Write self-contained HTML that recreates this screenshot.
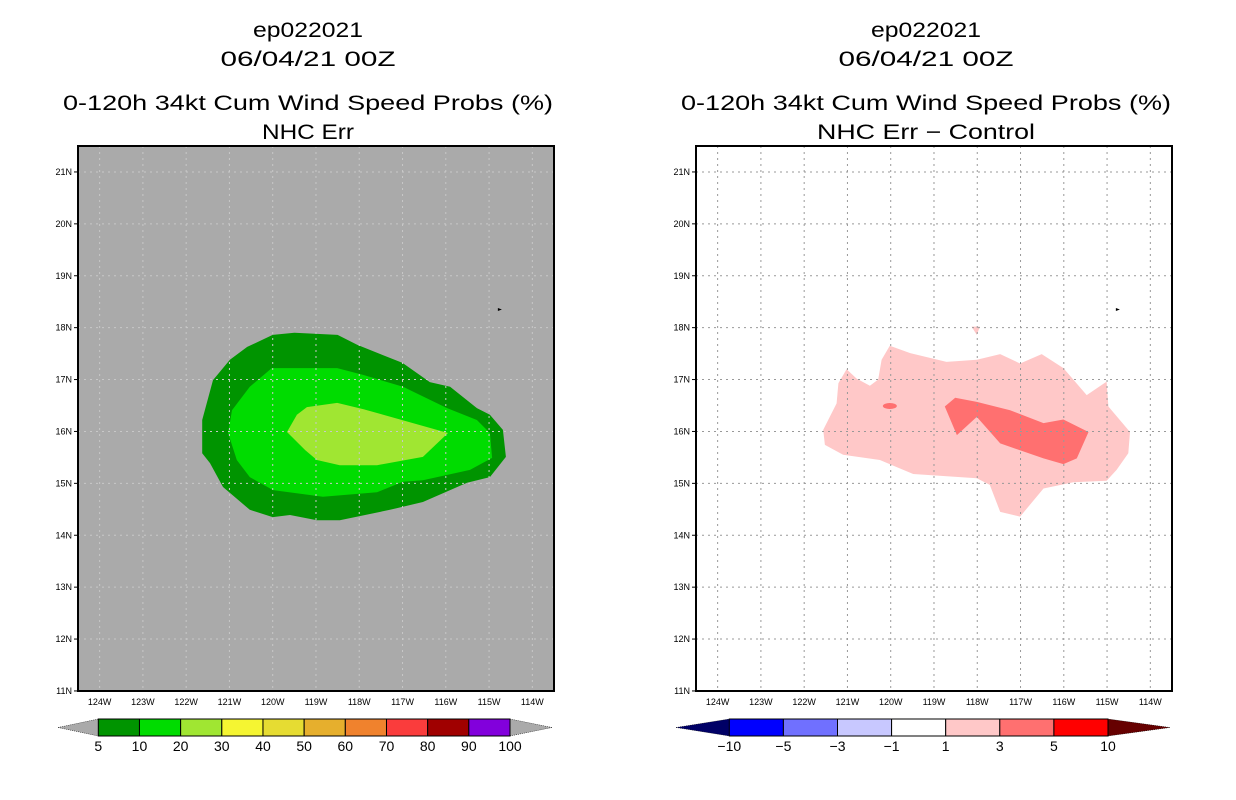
<!DOCTYPE html>
<html><head><meta charset="utf-8">
<style>
html,body{margin:0;padding:0;background:#fff;}
svg{display:block;font-family:"Liberation Sans",sans-serif;}
</style></head>
<body>
<svg id="chart" width="1236" height="800" viewBox="0 0 1236 800" xmlns="http://www.w3.org/2000/svg">
<g font-size="21" text-anchor="middle" fill="#000">
<text x="308" y="37" textLength="110" lengthAdjust="spacingAndGlyphs">ep022021</text>
<text x="308" y="66" textLength="175" lengthAdjust="spacingAndGlyphs">06/04/21 00Z</text>
<text x="308" y="110" textLength="490" lengthAdjust="spacingAndGlyphs">0-120h 34kt Cum Wind Speed Probs (%)</text>
<text x="308" y="139" textLength="92" lengthAdjust="spacingAndGlyphs">NHC Err</text>
</g>
<g font-size="21" text-anchor="middle" fill="#000">
<text x="926" y="37" textLength="110" lengthAdjust="spacingAndGlyphs">ep022021</text>
<text x="926" y="66" textLength="175" lengthAdjust="spacingAndGlyphs">06/04/21 00Z</text>
<text x="926" y="110" textLength="490" lengthAdjust="spacingAndGlyphs">0-120h 34kt Cum Wind Speed Probs (%)</text>
<text x="926" y="139" textLength="218" lengthAdjust="spacingAndGlyphs">NHC Err − Control</text>
</g>
<g id="left"></g>
<g id="right"></g>
</svg>
<script>
// Axis data
const latTicks = [21,20,19,18,17,16,15,14,13,12,11];
const lonTicks = [124,123,122,121,120,119,118,117,116,115,114];
// Left panel contour polygons [lonW, lat]
const prob5 = [[120.0,17.86],[119.5,17.9],[118.5,17.86],[118.05,17.67],[117.0,17.32],[116.37,16.95],[115.9,16.86],[115.28,16.45],[114.98,16.32],[114.68,16.03],[114.61,15.51],[114.98,15.12],[115.51,15.01],[116.53,14.64],[117.29,14.49],[118.45,14.29],[118.98,14.29],[119.6,14.39],[120.0,14.35],[120.53,14.49],[121.15,14.93],[121.45,15.39],[121.63,15.58],[121.63,16.22],[121.38,16.99],[120.99,17.38],[120.59,17.63]];
const prob10 = [[120.02,17.22],[118.51,17.22],[117.91,17.09],[116.99,16.86],[115.97,16.45],[115.28,16.22],[114.98,15.97],[114.93,15.49],[115.44,15.26],[116.53,15.06],[116.99,15.03],[117.59,14.83],[118.84,14.74],[119.99,14.87],[120.53,15.12],[120.83,15.45],[121.03,15.97],[120.94,16.41],[120.53,16.86]];
const prob20 = [[119.21,16.47],[118.51,16.55],[117.91,16.43],[115.95,15.97],[116.53,15.51],[117.59,15.35],[118.45,15.35],[118.98,15.45],[119.25,15.64],[119.67,15.99],[119.44,16.32]];
// Right panel difference polygons
const diff1 = [[121.56,16.03],[121.25,16.54],[121.21,16.93],[121.02,17.2],[120.79,17.02],[120.48,16.88],[120.29,17.0],[120.21,17.38],[120.02,17.65],[119.55,17.51],[118.71,17.34],[118.01,17.38],[117.47,17.49],[117.01,17.31],[116.51,17.49],[116.01,17.22],[115.47,16.7],[115.01,16.96],[114.97,16.48],[114.47,15.99],[114.51,15.58],[114.78,15.26],[115.01,15.05],[115.78,15.02],[116.47,14.9],[117.01,14.36],[117.47,14.45],[117.71,14.97],[118.01,15.1],[119.48,15.18],[120.25,15.45],[121.1,15.55],[121.52,15.74]];
const diff1b = [[118.13,18.02],[117.94,18.02],[118.01,17.86]];
const diff3 = [[118.75,16.48],[118.51,16.65],[118.01,16.57],[117.24,16.41],[116.47,16.16],[116.01,16.23],[115.43,15.99],[115.7,15.48],[116.01,15.37],[116.47,15.48],[117.47,15.77],[118.01,16.28],[118.47,15.93]];
const diff3b = [[120.02,16.49]];
// Colorbar data
const probLevels = ["5","10","20","30","40","50","60","70","80","90","100"];
const probColors = ["#009400","#00dc00","#a0e632","#f5f532","#e6dc32","#e6af2d","#f0822d","#fa3c3c","#a00000","#8200dc"];
const diffLevels = ["−10","−5","−3","−1","1","3","5","10"];
const diffColors = ["#0000ff","#7070ff","#c8c8ff","#ffffff","#ffc8c8","#ff7070","#ff0000"];

const NS="http://www.w3.org/2000/svg";
function mk(tag, attrs, parent){const e=document.createElementNS(NS,tag);for(const k in attrs)e.setAttribute(k,attrs[k]);parent.appendChild(e);return e;}
function xScale(ox){return lonW=>ox+(124.5-lonW)*43.27;}
function yScale(lat){return 146+(21.5-lat)*51.9;}
function pts(poly,xs){return poly.map(p=>xs(p[0]).toFixed(1)+","+yScale(p[1]).toFixed(1)).join(" ");}

function panel(g, ox, bg, polys, gridColor){
  const xs=xScale(ox);
  const bgr=mk('rect',{x:ox,y:146,width:476,height:545,fill:bg},g);
  
  
  polys.forEach(pp=>{
    const p=mk('polygon',{points:pts(pp.d,xs),fill:pp.c},g);
    
    
  });
  lonTicks.forEach(l=>{
    const ln=mk('line',{x1:xs(l),x2:xs(l),y1:146,y2:691,stroke:gridColor,'stroke-width':1,'stroke-dasharray':'2,4'},g);
    
    
    const t=mk('text',{x:xs(l),y:705,'font-size':9,'text-anchor':'middle'},g);
    t.textContent=l+"W";
    
    
  });
  latTicks.forEach(l=>{
    const y=yScale(l);
    if(l>11){const ln=mk('line',{x1:ox,x2:ox+476,y1:y,y2:y,stroke:gridColor,'stroke-width':1,'stroke-dasharray':'2,4'},g);
    
    }
    mk('line',{x1:ox-4,x2:ox,y1:y,y2:y,stroke:'#000'},g);
    const t=mk('text',{x:ox-6,y:y+3,'font-size':9,'text-anchor':'end'},g);
    t.textContent=l+"N";
    
    
  });
  const m=mk('polygon',{points:`${xs(114.75)-2},${yScale(18.35)-1.5} ${xs(114.75)+2},${yScale(18.35)} ${xs(114.75)-2},${yScale(18.35)+1.5}`,fill:'#000'},g);
  
  
  const fr=mk('rect',{x:ox,y:146,width:476,height:545,fill:'none',stroke:'#000','stroke-width':2},g);
  
  
  return xs;
}

const L=document.getElementById('left');
panel(L,78,'#aaaaaa',[{d:prob5,c:'#009400',n:'contour-5pct'},{d:prob10,c:'#00dc00',n:'contour-10pct'},{d:prob20,c:'#a0e632',n:'contour-20pct'}],'#c8c8c8');
const R=document.getElementById('right');
const xsR=panel(R,696,'#ffffff',[{d:diff1,c:'#ffc8c8',n:'diff-1-3'},{d:diff1b,c:'#ffc8c8',n:'diff-1-3-small'},{d:diff3,c:'#ff7070',n:'diff-3-5'}],'#999999');
diff3b.forEach(p=>{
  const e=mk('ellipse',{cx:xsR(p[0]),cy:yScale(p[1]),rx:7,ry:3,fill:'#ff7070'},R);
  
  
});

function colorbar(g,x0,x1,tipL,tipR,colors,labels,cL,cR,name){
  const y0=719,y1=736,n=colors.length,w=(x1-x0)/n;
  const cb=mk('g',{},g);
  
  
  const a=mk('polygon',{points:`${tipL},727.5 ${x0},${y0} ${x0},${y1}`,fill:cL,stroke:'#000','stroke-width':0.5,'stroke-dasharray':'1,1'},cb);
  
  
  const b=mk('polygon',{points:`${tipR},727.5 ${x1},${y0} ${x1},${y1}`,fill:cR,stroke:'#000','stroke-width':0.5,'stroke-dasharray':'1,1'},cb);
  
  
  colors.forEach((c,i)=>{
    const r=mk('rect',{x:x0+i*w,y:y0,width:w,height:y1-y0,fill:c,stroke:'#000','stroke-width':1},cb);
    
    
  });
  labels.forEach((l,i)=>{
    const t=mk('text',{x:x0+i*w,y:751,'font-size':14,'text-anchor':'middle'},cb);
    t.textContent=l;
    
    
  });
}
colorbar(L,98.3,510,58,552,probColors,probLevels,'#aaaaaa','#aaaaaa','prob-colorbar');
colorbar(R,729.3,1108,676,1170,diffColors,diffLevels,'#000066','#660000','diff-colorbar');
</script>
</body></html>
